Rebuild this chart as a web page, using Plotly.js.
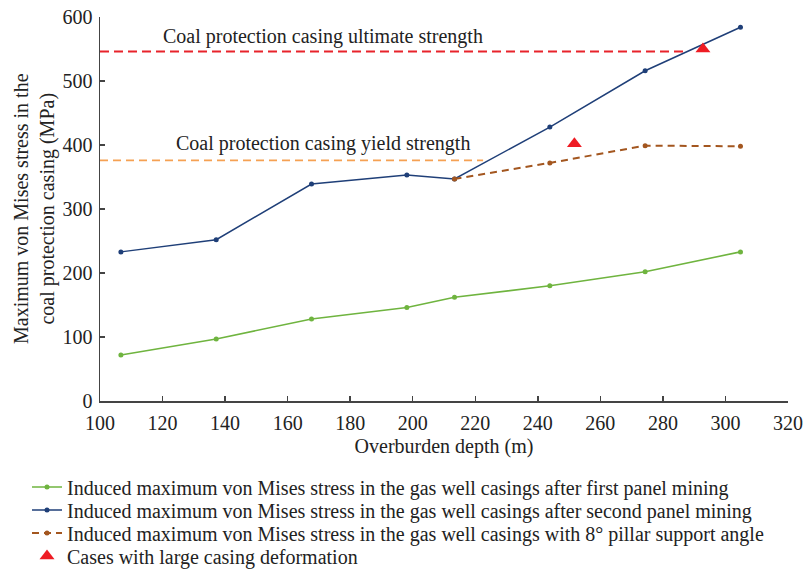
<!DOCTYPE html>
<html>
<head>
<meta charset="utf-8">
<script src="https://cdn.plot.ly/plotly-3.0.1.min.js"></script>
<style>html,body{margin:0;padding:0;background:#fff;}#chart{width:804px;height:572px;}</style>
</head>
<body>
<div id="chart"></div>
<script>
// Overburden depth (m)
const depth = [106.68, 137.16, 167.64, 198.12, 213.36, 243.84, 274.32, 304.8];
// Induced max von Mises stress after first panel mining (MPa)
const firstPanel = [72, 97, 128, 146, 162, 180, 202, 233];
// after second panel mining (MPa)
const secondPanel = [233, 252, 339, 353, 347, 428, 516, 584];
// with 8° pillar support angle
const pillarDepth = [213.36, 243.84, 274.32, 304.8];
const pillarStress = [347, 372, 399, 398];
// cases with large casing deformation
const deformDepth = [251.7, 292.8];
const deformStress = [402, 550];
// reference strengths
const ultimateX = [100, 286.5];
const ultimateY = [546, 546];
const yieldX = [100, 222.5];
const yieldY = [376, 376];
// tick labels
const xTicks = [100,120,140,160,180,200,220,240,260,280,300,320];
const yTicks = [0,100,200,300,400,500,600];

const serif = 'Liberation Serif, Times New Roman, serif';
const txt = {family: serif, size: 20, color: '#222'};

const traces = [
  {x: ultimateX, y: ultimateY, mode: 'lines', showlegend: false, hoverinfo: 'skip',
   line: {color: '#e8232b', width: 2, dash: '9px,5px'}},
  {x: yieldX, y: yieldY, mode: 'lines', showlegend: false, hoverinfo: 'skip',
   line: {color: '#f5a153', width: 1.8, dash: '8px,5px'}},
  {x: depth, y: firstPanel, mode: 'lines+markers', legend: 'legend',
   name: 'Induced maximum von Mises stress in the gas well casings after first panel mining',
   line: {color: '#6fb43f', width: 1.6}, marker: {color: '#6fb43f', size: 5}},
  {x: depth, y: secondPanel, mode: 'lines+markers', legend: 'legend2',
   name: 'Induced maximum von Mises stress in the gas well casings after second panel mining',
   line: {color: '#1f3f78', width: 1.5}, marker: {color: '#1f3f78', size: 5}},
  {x: pillarDepth, y: pillarStress, mode: 'lines+markers', legend: 'legend3',
   name: 'Induced maximum von Mises stress in the gas well casings with 8° pillar support angle',
   line: {color: '#a3561f', width: 2, dash: '7px,5px'}, marker: {color: '#a3561f', size: 5}},
  {x: deformDepth, y: deformStress, mode: 'markers', legend: 'legend4',
   name: 'Cases with large casing deformation',
   marker: {color: '#ee1c24', size: 13, symbol: 'triangle-up'}}
];

function leg(centerY) {
  return {xref: 'container', yref: 'container', x: 27/804, y: 1 - centerY/572,
    xanchor: 'left', yanchor: 'middle', bgcolor: 'rgba(0,0,0,0)', borderwidth: 0,
    font: txt};
}

const layout = {
  width: 804, height: 572,
  margin: {l: 100, r: 16, t: 17, b: 171, autoexpand: false},
  paper_bgcolor: '#fff', plot_bgcolor: '#fff',
  font: txt,
  xaxis: {
    range: [100, 320], tickvals: xTicks,
    showgrid: false, zeroline: false, showline: true, linecolor: '#444', linewidth: 1.5,
    ticks: 'inside', ticklen: 5, tickcolor: '#444', tickwidth: 1.5,
    tickfont: txt, ticklabelstandoff: 3,
    title: {text: 'Overburden depth (m)', font: txt, standoff: 6}
  },
  yaxis: {
    range: [0, 600], tickvals: yTicks,
    showgrid: false, zeroline: false, showline: true, linecolor: '#444', linewidth: 1.5,
    ticks: 'inside', ticklen: 5, tickcolor: '#444', tickwidth: 1.5,
    tickfont: txt, ticklabelstandoff: 2
  },
  annotations: [
    {x: 171.3, y: 569.7, xref: 'x', yref: 'y', text: 'Coal protection casing ultimate strength',
     showarrow: false, font: txt},
    {x: 171.3, y: 402, xref: 'x', yref: 'y', text: 'Coal protection casing yield strength',
     showarrow: false, font: txt},
    {x: 0, y: 0.5, xref: 'paper', yref: 'paper', xanchor: 'center', yanchor: 'middle',
     xshift: -66, yshift: 0, textangle: -90,
     text: 'Maximum von Mises stress in the<br>coal protection casing (MPa)',
     showarrow: false, font: txt}
  ],
  legend: leg(487),
  legend2: leg(510),
  legend3: leg(533),
  legend4: leg(556),
  showlegend: true
};

Plotly.newPlot('chart', traces, layout, {displayModeBar: false, staticPlot: true});
</script>
</body>
</html>
